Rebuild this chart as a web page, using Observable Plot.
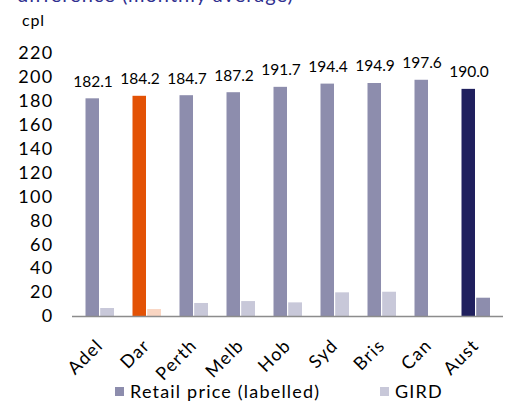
<!DOCTYPE html>
<html>
<head>
<meta charset="utf-8">
<script src="https://cdn.jsdelivr.net/npm/d3@7"></script>
<script src="https://cdn.jsdelivr.net/npm/@observablehq/plot@0.6"></script>
<style>
  html, body { margin: 0; padding: 0; background: #fff; }
  #wrap { position: relative; width: 506px; height: 401px; overflow: hidden; font-family: Lato, "Open Sans", sans-serif; color: #000; }
  #title { position: absolute; left: 17px; top: -18px; font-size: 20px; line-height: 24px; letter-spacing: 1px; color: #2f2f8f; white-space: nowrap; }
  #unit { position: absolute; left: 22px; top: 10px; font-size: 16px; letter-spacing: 0.8px; }
  #chart { position: absolute; left: 0; top: 0; }
  #chart g[aria-label="y-axis tick label"] text,
  #chart g[aria-label="x-axis tick label"] text { letter-spacing: 1.3px; }
  #legend { position: absolute; left: 0; top: 382px; width: 506px; font-size: 18px; line-height: 18px; letter-spacing: 1.2px; }
  .li { position: absolute; top: 0; display: flex; align-items: center; white-space: nowrap; }
  .sw { width: 9px; height: 9px; margin-right: 6px; }
</style>
</head>
<body>
<div id="wrap">
  <div id="title">difference (monthly average)</div>
  <div id="unit">cpl</div>
  <div id="chart"></div>
  <div id="legend"></div>
</div>
<script>
const categories = ["Adel", "Dar", "Perth", "Melb", "Hob", "Syd", "Bris", "Can", "Aust"];
const retail = [182.1, 184.2, 184.7, 187.2, 191.7, 194.4, 194.9, 197.6, 190.0];
const gird = [6.7, 5.8, 10.9, 12.5, 11.4, 19.8, 20.3, 0, 15.3];
const yTicks = [0, 20, 40, 60, 80, 100, 120, 140, 160, 180, 200, 220];
const seriesNames = ["Retail price (labelled)", "GIRD"];
const retailColors = ["#8d8dad", "#e35205", "#8d8dad", "#8d8dad", "#8d8dad", "#8d8dad", "#8d8dad", "#8d8dad", "#20205e"];
const girdColors = ["#c8c8d9", "#f9d5c2", "#c8c8d9", "#c8c8d9", "#c8c8d9", "#c8c8d9", "#c8c8d9", "#c8c8d9", "#8d8dad"];
const legendColors = ["#8d8dad", "#c8c8d9"];

const rows = categories.map((c, i) => ({cat: c, retail: retail[i], gird: gird[i], rc: retailColors[i], gc: girdColors[i]}));

const plot = Plot.plot({
  width: 506,
  height: 401,
  marginTop: 53,
  marginBottom: 85,
  marginLeft: 72,
  marginRight: 3,
  style: {fontFamily: "Lato, 'Open Sans', sans-serif", color: "#000", background: "transparent"},
  x: {domain: categories, padding: 0, label: null},
  y: {domain: [0, 220], label: null},
  marks: [
    Plot.barY(rows, {x: "cat", y: "retail", fill: "rc", insetLeft: 9.5, insetRight: 24}),
    Plot.barY(rows, {x: "cat", y: "gird", fill: "gc", insetLeft: 24.2, insetRight: 9}),
    Plot.text(rows, {x: "cat", y: "retail", text: d => d.retail.toFixed(1), dx: -7, dy: -17, fontSize: 15.5, fill: "#000"}),
    Plot.ruleY([0], {stroke: "#8c8c8c", strokeWidth: 1.5}),
    Plot.axisY({ticks: yTicks, tickSize: 0, tickPadding: 19, fontSize: 18, line: true, stroke: "#8c8c8c", label: null}),
    Plot.axisX({tickSize: 0, tickRotate: -45, tickPadding: 26, fontSize: 18, label: null})
  ]
});
document.getElementById("chart").appendChild(plot);

const legend = document.getElementById("legend");
const lx = [115, 380];
seriesNames.forEach((s, i) => {
  const d = document.createElement("div");
  d.className = "li";
  d.style.left = lx[i] + "px";
  d.innerHTML = `<span class="sw" style="background:${legendColors[i]}"></span><span>${s}</span>`;
  legend.appendChild(d);
});
</script>
</body>
</html>
